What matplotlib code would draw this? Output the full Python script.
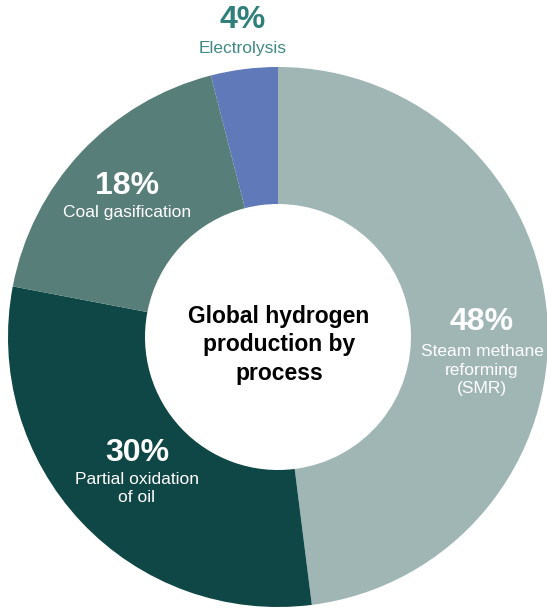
import matplotlib
matplotlib.use("Agg")
import matplotlib.pyplot as plt

categories = ["Steam methane\nreforming\n(SMR)", "Partial oxidation\nof oil", "Coal gasification", "Electrolysis"]
values = [48, 30, 18, 4]
pct_labels = ["48%", "30%", "18%", "4%"]
colors = ["#9fb6b5", "#0e4745", "#577e79", "#5f79b9"]
center_title = "Global hydrogen\nproduction by\nprocess"

W, H = 547, 610
fig = plt.figure(figsize=(W / 100, H / 100), dpi=100)
ax = fig.add_axes([0, 0, 1, 1])
ax.set_xlim(0, W)
ax.set_ylim(0, H)
ax.set_aspect("equal")
ax.axis("off")

cx, cy = 278, H - 337
R, r_in = 270, 133
ax.pie(values, colors=colors, startangle=90, counterclock=False,
       radius=R, center=(cx, cy),
       wedgeprops=dict(width=R - r_in, linewidth=0))
ax.set_xlim(0, W)
ax.set_ylim(0, H)

font = "Liberation Sans"
ax.text(cx + 1, H - 345, center_title, ha="center", va="center", fontsize=16.5,
        fontweight="bold", family=font, color="#000000", linespacing=1.3)

# label positions (pixel coords from top)
pct_pos = [(482, 322), (137, 453), (127, 186), (243, 20)]
cat_pos = [(482, 370), (137, 489), (127, 212), (243, 48)]
txt_cols = ["white", "white", "white", "#2f7f7b"]
cat_cols = ["white", "white", "white", "#3f8a86"]
for i in range(len(values)):
    px, py = pct_pos[i]
    ax.text(px, H - py, pct_labels[i], ha="center", va="center", fontsize=23,
            fontweight="bold", family=font, color=txt_cols[i])
    qx, qy = cat_pos[i]
    ax.text(qx, H - qy, categories[i], ha="center", va="center", fontsize=12.5,
            family=font, color=cat_cols[i], linespacing=1.25)

fig.savefig("out.png", dpi=100)
